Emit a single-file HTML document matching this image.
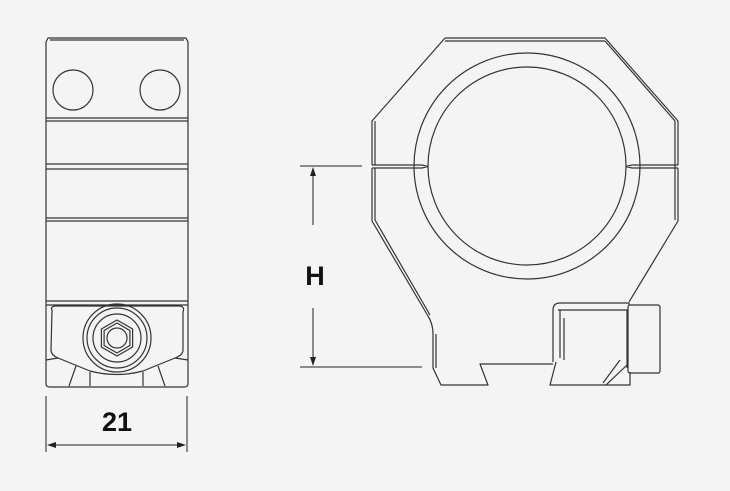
<!DOCTYPE html>
<html><head><style>
html,body{margin:0;padding:0;background:#f4f4f4;}
svg{display:block}
text{font-family:"Liberation Sans",sans-serif;font-weight:bold;fill:#111}
</style></head><body>
<svg width="730" height="491" viewBox="0 0 730 491" xmlns="http://www.w3.org/2000/svg">
<g fill="none" stroke="#333" stroke-width="1.2" stroke-linejoin="round">
<!-- Left view -->
<path d="M48,38 H186 L188,42 V384 Q188,387 184,387 H50 Q46,387 46,384 V42 Z"/>
<path d="M50,40 H184" />
<circle cx="73" cy="90" r="20"/>
<circle cx="160" cy="90" r="20"/>
<path d="M46,118 H188 M46,121 H188"/>
<path d="M46,164 H188 M46,169 H188"/>
<path d="M46,218 H188 M46,221 H188"/>
<path d="M46,301 H188 M46,305 H188"/>
<path d="M52,310 Q50,307 55,306 H180 Q185,307 183,312 V350 Q183,355 175,358 L143,371 Q117,378 90,371 L58,358 Q51,355 51,350 Z"/>
<path d="M46,360 L58,358 M188,360 L175,358"/>
<path d="M69,386 L76,366 M165,386 L158,366"/>
<path d="M90,372 V386 M143,372 V386"/>
<circle cx="117" cy="338" r="34"/>
<circle cx="117" cy="338" r="30"/>
<circle cx="117" cy="338" r="24"/>
<polygon points="117,320 132.6,329 132.6,347 117,356 101.4,347 101.4,329"/>
<polygon points="117,323 129.9,330.5 129.9,345.5 117,353 104.1,345.5 104.1,330.5"/>
<circle cx="117" cy="338" r="10"/>
<!-- Right view -->
<path d="M445,38 H605 L678,121 V165 M678,168 V221 L629,302 M553,362 V310 Q553,303 560,303 H629 L629,305"/>
<path d="M445,41 H605"/>
<path d="M445,38 L372,121 V165 M372,168 V221 L428,316 Q433,324 433,334 V368 L441,385 H488 L480,364 H553"/>
<path d="M375,121 V165 M375,168 V220 L430,315 M436,334 V368"/>
<path d="M372,165 H422 L428,166.5 M372,168 H422 L428,166.5 M678,165 H632 L626,166.5 M678,168 H632 L626,166.5"/>
<path d="M675,121 V220 M605,41 L675,121"/>
<circle cx="527" cy="166" r="113"/>
<circle cx="527" cy="166" r="99"/>
<path d="M558,310 H627 V368 M560,310 V358 M564,318 V360 M556,362 L550,385 H630 L630,372"/>
<path d="M627,365 L606,385 M620,360 L603,383"/>
<rect x="628" y="305" width="32" height="68" rx="2"/>
</g>
<!-- dimensions -->
<g stroke="#222" stroke-width="1" fill="none">
<path d="M46,396 V452 M187,396 V452 M50,445 H183"/>
<path d="M300,166 H362 M300,367 H422"/>
<path d="M313,170 V225 M313,308 V363"/>
</g>
<g fill="#222">
<polygon points="47,445 56,442 56,448"/>
<polygon points="186,445 177,442 177,448"/>
<polygon points="313,167 310,176 316,176"/>
<polygon points="313,366 310,357 316,357"/>
</g>
<text x="117" y="431" font-size="27" text-anchor="middle">21</text>
<text x="315" y="285" font-size="27" text-anchor="middle">H</text>
</svg>
</body></html>
